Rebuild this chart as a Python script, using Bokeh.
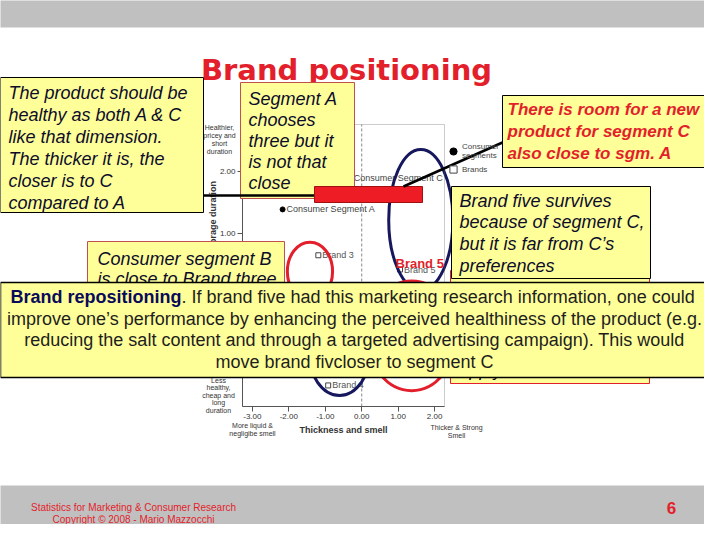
from bokeh.plotting import figure
from bokeh.models import (Range1d, LinearAxis, FixedTicker, BoxAnnotation, Label,
                          Arrow, ColumnDataSource, Legend, LegendItem)
from bokeh.core.properties import value
from bokeh.embed import file_html
from bokeh.resources import INLINE

# ---------------- data ----------------
segment_names = ["Consumer Segment A", "Consumer Segment B", "Consumer Segment C"]
segment_x = [-2.17, -1.55, -0.33]
segment_y = [1.39, 0.05, 1.90]

brand_names = ["Brand 1", "Brand 2", "Brand 3", "Brand 4", "Brand 5"]
brand_x = [1.40, -2.60, -1.19, -0.92, 1.05]
brand_y = [-0.75, -0.30, 0.65, -1.45, 0.42]

x_ticks = [-3, -2, -1, 0, 1, 2]
x_tick_labels = ["-3.00", "-2.00", "-1.00", "0.00", "1.00", "2.00"]
y_ticks = [-1, 0, 1, 2]
y_tick_labels = ["-1.00", "0.00", "1.00", "2.00"]

# highlight ellipses drawn on the map (data units)
ell_x = [1.62, -1.42, -0.61, 1.37]
ell_y = [1.22, 0.39, -0.89, -0.65]
ell_w = [1.76, 1.24, 1.70, 2.42]
ell_h = [2.27, 0.94, 1.45, 1.77]
ell_kind = ["navy", "red", "navy", "red"]

# ---------------- layout constants ----------------
NAVY = "#17175e"
RED = "#e21f2b"
YELLOW = "#ffff99"
FONT = "Liberation Sans"
TXT = "#0d0d2b"
W, H = 704, 524

CX = (-3.27, 2.27)            # map x limits
CY = (-1.79, 2.76)            # map y limits
BOX_L, BOX_R, BOX_T, BOX_B = 242, 444, 124, 406   # map frame on the slide (px)
SX0, SX1, SY0, SY1 = 0, W, 0, H                  # visible slide area (px)

ppx = (BOX_R - BOX_L) / (CX[1] - CX[0])
ppy = (BOX_B - BOX_T) / (CY[1] - CY[0])
chart_x = Range1d(CX[0] - (BOX_L - SX0) / ppx, CX[1] + (SX1 - BOX_R) / ppx)
chart_y = Range1d(CY[0] - (SY1 - BOX_B) / ppy, CY[1] + (BOX_T - SY0) / ppy)

p = figure(width=W, height=H, x_range=Range1d(SX0, SX1), y_range=Range1d(SY1, SY0),
           output_backend="svg", toolbar_location=None,
           x_axis_type=None, y_axis_type=None, min_border=0,
           background_fill_color="white", border_fill_color="white",
           outline_line_color=None)
p.extra_x_ranges = {"chart": chart_x}
p.extra_y_ranges = {"chart": chart_y}
CH = dict(x_range_name="chart", y_range_name="chart")

xaxis = LinearAxis(ticker=FixedTicker(ticks=x_ticks),
                   major_label_overrides=dict(zip(x_ticks, x_tick_labels)),
                   axis_label="Thickness and smell", fixed_location=CY[0], bounds=CX, **CH)
yaxis = LinearAxis(ticker=FixedTicker(ticks=y_ticks),
                   major_label_overrides=dict(zip(y_ticks, y_tick_labels)),
                   axis_label="Healthiness, price and storage duration",
                   fixed_location=CX[0], bounds=CY, **CH)
for ax in (xaxis, yaxis):
    ax.axis_line_color = "#555555"
    ax.major_tick_line_color = "#555555"
    ax.major_tick_out = 5
    ax.major_tick_in = 0
    ax.minor_tick_out = 0
    ax.minor_tick_in = 0
    ax.major_label_text_font = FONT
    ax.major_label_text_font_size = "8px"
    ax.major_label_text_color = "#333333"
    ax.major_label_standoff = 2
    ax.axis_label_text_font = FONT
    ax.axis_label_text_font_size = "9px"
    ax.axis_label_text_font_style = "bold"
    ax.axis_label_text_color = "#333333"
xaxis.axis_label_standoff = 3
yaxis.axis_label_standoff = -4
p.add_layout(xaxis, "below")
p.add_layout(yaxis, "left")

# ---------------- map glyphs ----------------
p.segment(x0=[0], y0=[CY[0]], x1=[0], y1=[CY[1]], line_dash="3 2",
          line_color="#888888", line_width=1, **CH)
p.segment(x0=[CX[0]], y0=[0], x1=[CX[1]], y1=[0], line_dash="3 2",
          line_color="#888888", line_width=1, **CH)

seg_src = ColumnDataSource(dict(x=segment_x, y=segment_y, name=segment_names))
brand_src = ColumnDataSource(dict(x=brand_x, y=brand_y, name=brand_names))
seg_r = p.scatter(x="x", y="y", source=seg_src, marker="circle", size=5,
                  fill_color="black", line_color="black", **CH)
brand_r = p.scatter(x="x", y="y", source=brand_src, marker="square", size=5,
                    fill_color="white", line_color="#444444", **CH)
p.text(x="x", y="y", text="name", source=seg_src, x_offset=4, text_baseline="middle",
       text_font=value(FONT), text_font_size="9px", text_color="#444444", **CH)
p.text(x="x", y="y", text="name", source=brand_src, x_offset=4, text_baseline="middle",
       text_font=value(FONT), text_font_size="9px", text_color="#555555", **CH)

ell_src = ColumnDataSource(dict(x=ell_x, y=ell_y, w=ell_w, h=ell_h,
                                c=[NAVY if k == "navy" else RED for k in ell_kind]))
p.ellipse(x="x", y="y", width="w", height="h", source=ell_src,
          fill_alpha=0, line_color="c", line_width=3, **CH)

# ---------------- annotations ----------------
def box(l, r, t, b, fill=YELLOW, line="black", lw=1):
    p.add_layout(BoxAnnotation(left=l, right=r, top=t, bottom=b, fill_color=fill,
                               fill_alpha=1 if fill else 0,
                               line_color=line, line_width=lw, line_alpha=1 if line else 0))

def lab(x, y, text, size="18px", style="italic", color=TXT, align="left", font=FONT,
        baseline="middle"):
    p.add_layout(Label(x=x, y=y, text=text, text_font=font, text_font_size=size,
                       text_font_style=style, text_color=color, text_align=align,
                       text_baseline=baseline))

# map frame outline
p.add_layout(BoxAnnotation(left=CX[0], right=CX[1], bottom=CY[0], top=CY[1], fill_alpha=0,
                           line_color="#555555", line_width=1, **CH))

# grey slide bands
box(-20, 740, -20, 27, fill="#c0c0c0", line=None, lw=0)
box(-20, 740, 485, 560, fill="#c0c0c0", line=None, lw=0)

# title and footer
lab(346, 69, "Brand positioning", size="29px", style="bold", color=RED, align="center",
    font="DejaVu Sans", baseline="alphabetic")
lab(133, 507, "Statistics for Marketing & Consumer Research", size="10px", style="normal", color=RED, align="center")
lab(133, 519, "Copyright \u00a9 2008 - Mario Mazzocchi", size="10px", style="normal", color=RED, align="center")
lab(671, 507, "6", size="17px", style="bold", color=RED, align="center")

# map corner descriptions
for i, t in enumerate(["Healthier,", "pricey and", "short", "duration"]):
    lab(219, 127 + 8 * i, t, size="7px", style="normal", color="#333333", align="center")
for i, t in enumerate(["Less", "healthy,", "cheap and", "long", "duration"]):
    lab(218, 380 + 7.4 * i, t, size="7px", style="normal", color="#333333", align="center")
lab(252, 425, "More liquid &", size="7px", style="normal", color="#333333", align="center")
lab(252, 433, "negligibe smell", size="7px", style="normal", color="#333333", align="center")
lab(456, 427, "Thicker & Strong", size="7px", style="normal", color="#333333", align="center")
lab(456, 435, "Smell", size="7px", style="normal", color="#333333", align="center")

legend = Legend(items=[LegendItem(label="Consumer\nsegments", renderers=[seg_r]),
                       LegendItem(label="Brands", renderers=[brand_r])],
                location=(444, H - 178), background_fill_alpha=0, border_line_alpha=0,
                padding=0, margin=0, spacing=0, glyph_width=18, glyph_height=18,
                label_standoff=0, label_text_font=FONT, label_text_font_size="8px",
                label_text_color="#444444", label_height=8)
p.add_layout(legend)

lab(395, 263, "Brand 5", size="13px", style="bold", color=RED)

# red-bordered box behind
box(450, 649, 270, 383, line=RED)
lab(459, 369, "apply", size="18px")

box(451, 650, 186, 278)
for i, t in enumerate(["Brand five survives", "because of segment C,",
                       "but it is far from C\u2019s", "preferences"]):
    lab(459, 200 + 21.7 * i, t)

box(0, 203, 77, 212)
for i, t in enumerate(["The product should be", "healthy as both A & C", "like that dimension.",
                       "The thicker it is, the", "closer is to C", "compared to A"]):
    lab(8, 92 + 22 * i, t)

box(240, 354, 82, 198, line="#c0504d")
for i, t in enumerate(["Segment A", "chooses", "three but it", "is not that", "close"]):
    lab(248, 98 + 21.2 * i, t)

p.add_layout(Arrow(end=None, x_start=203, y_start=195, x_end=314, y_end=195,
                   line_color="black", line_width=2.5))
box(314, 422, 186, 202, fill="#ee1c24", line="#a01010")
p.add_layout(Arrow(end=None, x_start=403, y_start=186, x_end=502, y_end=142,
                   line_color="black", line_width=2.5))

box(502, 725, 95, 167)
for i, t in enumerate(["There is room for a new", "product for segment C", "also close to sgm. A"]):
    lab(507, 109 + 22 * i, t, size="17px", style="bold italic", color=RED)

box(87, 284, 241, 300, line="#c0504d")
lab(97, 258, "Consumer segment B", size="18px")
lab(97, 278, "is close to Brand three", size="18px")

# big explanatory box
box(0, 722, 282, 377, lw=1.5)
lab(181, 296, "Brand repositioning", size="18px", style="bold", color="#0a0a5a", align="right")
lab(181, 296, ". If brand five had this marketing research information, one could",
    size="18px", style="normal", color="#1e1e1e", align="left")
for i, t in enumerate(["improve one\u2019s performance by enhancing the perceived healthiness of the product (e.g.",
                       "reducing the salt content and through a targeted advertising campaign). This would",
                       "move brand fivcloser to segment C"]):
    lab(354, 318 + 21.7 * i, t, size="18px", style="normal", color="#1e1e1e", align="center")

open("out.html", "w").write(file_html(p, INLINE))
